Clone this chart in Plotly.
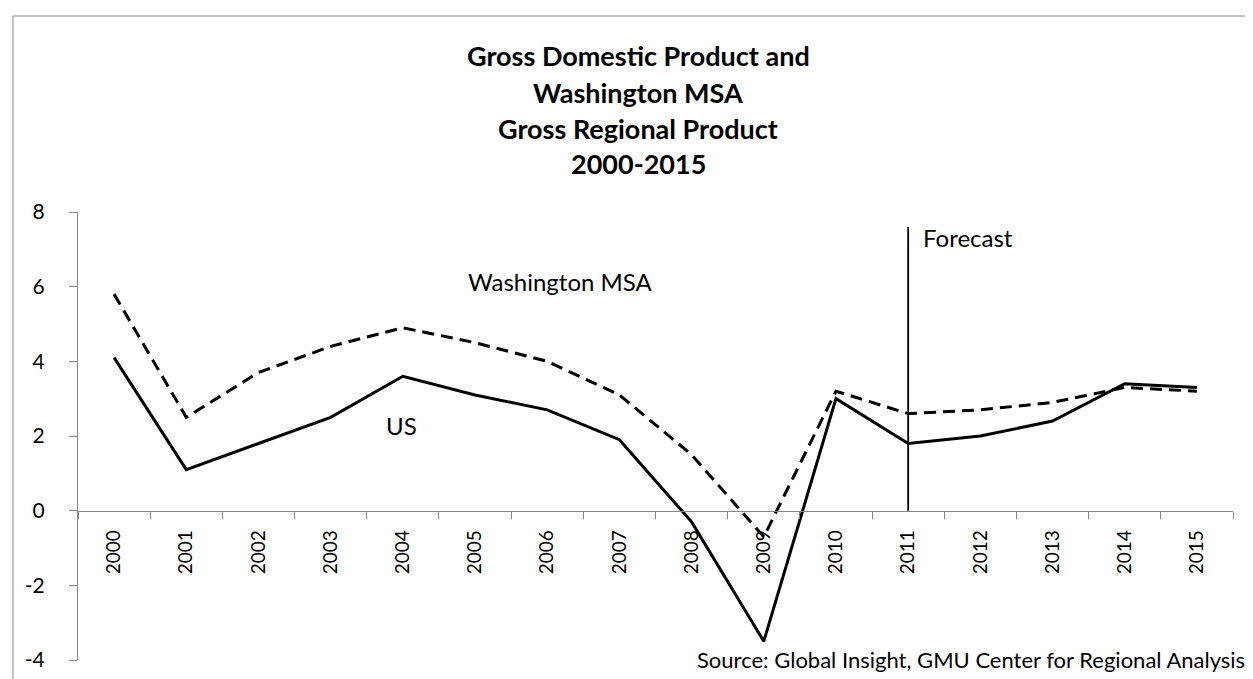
import plotly.graph_objects as go

# ---- data ----
years = ["2000", "2001", "2002", "2003", "2004", "2005", "2006", "2007",
         "2008", "2009", "2010", "2011", "2012", "2013", "2014", "2015"]
us_gdp = [4.1, 1.1, 1.8, 2.5, 3.6, 3.1, 2.7, 1.9, -0.3, -3.5, 3.0, 1.8, 2.0, 2.4, 3.4, 3.3]
wash_msa = [5.8, 2.5, 3.7, 4.4, 4.9, 4.5, 4.0, 3.1, 1.5, -0.7, 3.2, 2.6, 2.7, 2.9, 3.3, 3.2]
forecast_year = ["2011", "2011"]
forecast_span = [0, 7.6]
y_ticks = [-4, -2, 0, 2, 4, 6, 8]
title_lines = ["Gross Domestic Product and", "Washington MSA", "Gross Regional Product", "2000-2015"]
source_text = "Source: Global Insight, GMU Center for Regional Analysis"

# ---- layout geometry (pixels) ----
W, H = 1253, 679
L, R, T, B = 70, 1253 - 1225, 204, 679 - 652
PW, PH = W - L - R, H - T - B


def px_x(px):
    return (px - L) / PW


def px_y(py):
    return (H - B - py) / PH


FONT = "Lato"
GRAY = "#868686"

fig = go.Figure()
fig.add_trace(go.Scatter(x=years, y=wash_msa, mode="lines", name="Washington MSA",
                         line=dict(color="black", width=3, dash="12px,7px")))
fig.add_trace(go.Scatter(x=years, y=us_gdp, mode="lines", name="US",
                         line=dict(color="black", width=3)))
fig.add_trace(go.Scatter(x=forecast_year, y=forecast_span, mode="lines", name="Forecast",
                         line=dict(color="black", width=1.8)))

annotations = []
title_y = [47, 84, 120, 156]
for txt, yy in zip(title_lines, title_y):
    annotations.append(dict(text="<b>%s</b>" % txt, xref="paper", yref="paper",
                            x=px_x(630), y=px_y(yy), xanchor="center", yanchor="middle",
                            showarrow=False, font=dict(family=FONT, size=27, color="black")))
annotations.append(dict(text="Washington MSA", xref="paper", yref="paper",
                        x=px_x(552), y=px_y(273), xanchor="center", yanchor="middle",
                        showarrow=False, font=dict(family=FONT, size=24, color="black")))
annotations.append(dict(text="US", xref="paper", yref="paper",
                        x=px_x(393), y=px_y(417), xanchor="center", yanchor="middle",
                        showarrow=False, font=dict(family=FONT, size=24, color="black")))
annotations.append(dict(text="Forecast", xref="paper", yref="paper",
                        x=px_x(913), y=px_y(229), xanchor="left", yanchor="middle",
                        showarrow=False, font=dict(family=FONT, size=24, color="black")))
annotations.append(dict(text=source_text, xref="paper", yref="paper",
                        x=px_x(1239), y=px_y(651), xanchor="right", yanchor="middle",
                        showarrow=False, font=dict(family=FONT, size=22, color="black")))

shapes = [
    dict(type="line", xref="paper", yref="paper", x0=px_x(5), x1=px_x(5),
         y0=px_y(8), y1=px_y(700), line=dict(color=GRAY, width=1)),
    dict(type="line", xref="paper", yref="paper", x0=px_x(5), x1=px_x(1270),
         y0=px_y(8), y1=px_y(8), line=dict(color=GRAY, width=1)),
]

fig.update_layout(
    width=W, height=H, autosize=False,
    margin=dict(l=L, r=R, t=T, b=B, pad=0),
    paper_bgcolor="white", plot_bgcolor="white",
    showlegend=False, hovermode=False,
    annotations=annotations, shapes=shapes,
    font=dict(family=FONT, color="black"),
    xaxis=dict(type="category", categoryorder="array", categoryarray=years,
               range=[-0.5, len(years) - 0.5], anchor="free", position=(0 - (-4)) / 12,
               tickson="boundaries", ticks="outside", ticklen=7, tickwidth=1, tickcolor=GRAY,
               showline=True, linecolor=GRAY, linewidth=1, showgrid=False, zeroline=False,
               tickangle=-90, tickfont=dict(family=FONT, size=19, color="black"),
               ticklabelstandoff=11, automargin=False),
    yaxis=dict(range=[-4, 8], tickvals=y_ticks, ticktext=[str(v) for v in y_ticks],
               ticks="outside", ticklen=8, tickwidth=1, tickcolor=GRAY,
               showline=True, linecolor=GRAY, linewidth=1, showgrid=False, zeroline=False,
               tickfont=dict(family=FONT, size=21, color="black"),
               ticklabelstandoff=20, automargin=False),
)

fig.write_html("out.html")
